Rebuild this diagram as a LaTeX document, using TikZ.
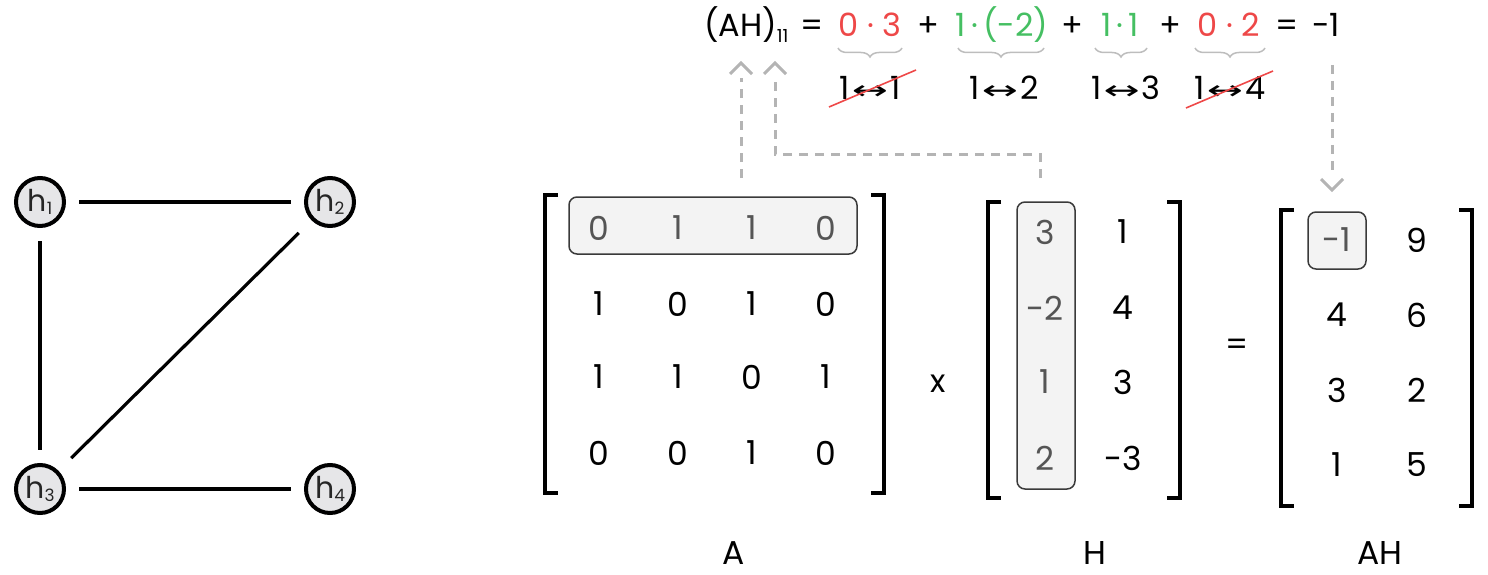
\documentclass[tikz,border=0pt]{standalone}
\usepackage{fontspec}
\usepackage{graphicx}
\setmainfont{Poppins}
\newfontfamily\symfont{DejaVu Sans}
\usetikzlibrary{arrows.meta,decorations.pathreplacing}
\definecolor{cred}{HTML}{EE4848}
\definecolor{cgreen}{HTML}{45BF62}
\definecolor{cgray}{HTML}{B4B4B4}
\definecolor{bracegray}{HTML}{BDBDBD}
\definecolor{boxfill}{HTML}{F3F3F3}
\definecolor{boxdraw}{HTML}{3A3A3A}
\definecolor{hltext}{HTML}{555555}
\definecolor{nodefill}{HTML}{E6E6E8}
\newcommand{\gsub}[1]{\raisebox{-3pt}{\fontsize{17}{17}\selectfont #1}}
\newcommand{\eqsub}[1]{\raisebox{-6pt}{\fontsize{18}{18}\selectfont #1}}
\newcommand{\lr}{\hspace{2pt}{\symfont\fontsize{24}{24}\selectfont\scalebox{1.8}[1.1]{↔}}\hspace{2pt}}
\begin{document}
\begin{tikzpicture}[x=1pt,y=-1pt,
  gnode/.style={circle, draw=black, line width=4pt, fill=nodefill, minimum size=48pt, inner sep=0pt, text=black!85, font=\fontsize{30}{32}\selectfont},
  gedge/.style={line width=3.2pt, black},
  ent/.style={inner sep=0pt, font=\fontsize{33}{36}\selectfont},
  hent/.style={ent, text=hltext},
  eqt/.style={inner sep=0pt, font=\fontsize{32}{36}\selectfont},
  brk/.style={line width=3.5pt, black},
  hlbox/.style={draw=boxdraw, line width=1.5pt, fill=boxfill, rounded corners=8pt},
  dline/.style={cgray, line width=3pt, dash pattern=on 9pt off 7pt},
  chev/.style={cgray, line width=3pt},
  bracest/.style={bracegray, line width=1.5pt, decorate, decoration={brace, mirror, amplitude=9pt}},
  strike/.style={cred, line width=1.6pt}]
\useasboundingbox (0,0) rectangle (1488,575);

% ---------- graph ----------
\node[gnode] (h1) at (40,202) {h\gsub{1}};
\node[gnode] (h2) at (330,202) {h\gsub{2}};
\node[gnode] (h3) at (40,489) {h\gsub{3}};
\node[gnode] (h4) at (330,489) {h\gsub{4}};
\draw[gedge, shorten <=13pt, shorten >=13pt] (h1) -- (h2);
\draw[gedge, shorten <=13pt, shorten >=13pt] (h1) -- (h3);
\draw[gedge, shorten <=18pt, shorten >=18pt] (h2) -- (h3);
\draw[gedge, shorten <=13pt, shorten >=13pt] (h3) -- (h4);

% ---------- highlight boxes ----------
\draw[hlbox] (569,197) rectangle (857,254);
\draw[hlbox] (1017,202) rectangle (1075,489);
\draw[hlbox] (1308,212) rectangle (1366,269);

% ---------- matrix A ----------
\draw[brk] (558,195) -- (545,195) -- (545,493) -- (558,493);
\draw[brk] (871,195) -- (884,195) -- (884,493) -- (871,493);
\node[hent] (a11) at (599,228) {0};
\node[hent] (a12) at (678,228) {1};
\node[hent] (a13) at (752,228) {1};
\node[hent] (a14) at (826,228) {0};
\node[ent] (a21) at (599,304) {1};
\node[ent] (a22) at (678,304) {0};
\node[ent] (a23) at (752,304) {1};
\node[ent] (a24) at (826,304) {0};
\node[ent] (a31) at (599,377) {1};
\node[ent] (a32) at (678,377) {1};
\node[ent] (a33) at (752,377) {0};
\node[ent] (a34) at (826,377) {1};
\node[ent] (a41) at (599,453) {0};
\node[ent] (a42) at (678,453) {0};
\node[ent] (a43) at (752,453) {1};
\node[ent] (a44) at (826,453) {0};

\node[eqt] (times) at (938,384) {x};

% ---------- matrix H ----------
\draw[brk] (1001,202) -- (988,202) -- (988,498) -- (1001,498);
\draw[brk] (1167,202) -- (1180,202) -- (1180,498) -- (1167,498);
\node[hent] (b11) at (1045,232) {3};
\node[hent] (b21) at (1045,308) {-2};
\node[hent] (b31) at (1045,382) {1};
\node[hent] (b41) at (1045,458) {2};
\node[ent] (b12) at (1123,232) {1};
\node[ent] (b22) at (1123,308) {4};
\node[ent] (b32) at (1123,382) {3};
\node[ent] (b42) at (1123,458) {-3};

\node[eqt] (equal) at (1237,347) {=};

% ---------- matrix AH ----------
\draw[brk] (1294,210) -- (1281,210) -- (1281,506) -- (1294,506);
\draw[brk] (1459,210) -- (1472,210) -- (1472,506) -- (1459,506);
\node[hent] (c11) at (1337,240) {-1};
\node[ent] (c12) at (1417,240) {9};
\node[ent] (c21) at (1337,315) {4};
\node[ent] (c22) at (1417,315) {6};
\node[ent] (c31) at (1337,390) {3};
\node[ent] (c32) at (1417,390) {2};
\node[ent] (c41) at (1337,465) {1};
\node[ent] (c42) at (1417,465) {5};

% ---------- labels ----------
\node[ent] (labA) at (734,553) {A};
\node[ent] (labH) at (1095,553) {H};
\node[ent] (labAH) at (1380,553) {AH};

% ---------- top equation ----------
\node[eqt, anchor=base west] (lhs) at (704,37) {(AH)\eqsub{11}};
\node[eqt, anchor=base] (e1) at (812,37) {=};
\node[eqt, anchor=base, text=cred] (t1) at (870,37) {0 · 3};
\node[eqt, anchor=base] (p1) at (928,37) {+};
\node[eqt, anchor=base, text=cgreen] (t2) at (1002,37) {1\,·\,(-2)};
\node[eqt, anchor=base] (p2) at (1072,37) {+};
\node[eqt, anchor=base, text=cgreen] (t3) at (1120,37) {1\,·\,1};
\node[eqt, anchor=base] (p3) at (1170,37) {+};
\node[eqt, anchor=base, text=cred] (t4) at (1229,37) {0 · 2};
\node[eqt, anchor=base] (e2) at (1287,37) {=};
\node[eqt, anchor=base] (res) at (1326,37) {-1};

\draw[bracest] (838,48) -- (902,48);
\draw[bracest] (958,48) -- (1044,48);
\draw[bracest] (1095,48) -- (1147,48);
\draw[bracest] (1195,48) -- (1265,48);

\node[eqt, anchor=base] (s1) at (870,100) {1\lr 1};
\node[eqt, anchor=base] (s2) at (1004,100) {1\lr 2};
\node[eqt, anchor=base] (s3) at (1126,100) {1\lr 3};
\node[eqt, anchor=base] (s4) at (1230,100) {1\lr 4};
\draw[strike] (829,107) -- (916,70);
\draw[strike] (1186,108) -- (1273,71);

% ---------- dashed connectors ----------
\coordinate (fromA) at (741,178);
\coordinate (tipA) at (741,63);
\coordinate (fromH) at (1040,178);
\coordinate (tipH) at (775,63);
\coordinate (fromR) at (1332,65);
\coordinate (tipR) at (1332,190);
\draw[dline, shorten >=15pt] (fromA) -- (tipA);
\draw[dline, shorten >=15pt] (fromH) -- (1040,154) -- (775,154) -- (tipH);
\draw[dline, shorten >=13pt] (fromR) -- (tipR);
\draw[chev] (tipA) ++(-11,11) -- (tipA) -- ++(11,11);
\draw[chev] (tipH) ++(-11,11) -- (tipH) -- ++(11,11);
\draw[chev] (tipR) ++(-11,-11) -- (tipR) -- ++(11,-11);
\end{tikzpicture}
\end{document}
